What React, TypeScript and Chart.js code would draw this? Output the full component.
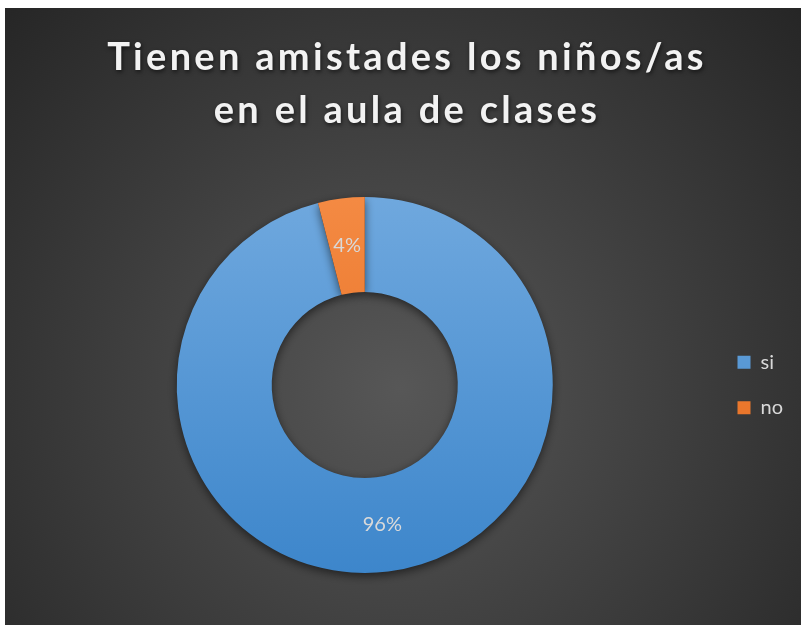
import React, { useEffect, useRef } from "react";
import { Chart, registerables } from "chart.js";

Chart.register(...registerables);

const TITLE_LINES = ["Tienen amistades los niños/as", "en el aula de clases"];
const CATEGORIES = ["si", "no"];
const VALUES = [96, 4];
const LABELS = ["96%", "4%"];

const W = 796;
const H = 617;

const bgPlugin = {
  id: "bg",
  beforeDraw(chart: any) {
    const { ctx } = chart;
    ctx.save();
    const g = ctx.createRadialGradient(395, 380, 0, 395, 380, 560);
    g.addColorStop(0, "#575757");
    g.addColorStop(1, "#252525");
    ctx.fillStyle = g;
    ctx.fillRect(0, 0, chart.width, chart.height);
    ctx.restore();
  },
};

const titlePlugin = {
  id: "customTitle",
  afterDraw(chart: any) {
    const { ctx } = chart;
    ctx.save();
    ctx.font = "bold 38px Lato";
    (ctx as any).letterSpacing = "3.3px";
    ctx.textAlign = "center";
    ctx.textBaseline = "alphabetic";
    ctx.fillStyle = "#f2f2f2";
    ctx.shadowColor = "rgba(0,0,0,0.6)";
    ctx.shadowBlur = 4;
    ctx.shadowOffsetX = 1;
    ctx.shadowOffsetY = 2;
    const baselines = [62, 115];
    TITLE_LINES.forEach((line, i) => {
      ctx.fillText(line, 402, baselines[i]);
    });
    ctx.restore();
  },
};

const shadowPlugin = {
  id: "ringShadow",
  beforeDatasetsDraw(chart: any) {
    const { ctx } = chart;
    ctx.save();
    ctx.shadowColor = "rgba(0,0,0,0.55)";
    ctx.shadowBlur = 10;
    ctx.shadowOffsetY = 3;
  },
  afterDatasetsDraw(chart: any) {
    chart.ctx.restore();
  },
};

const labelPlugin = {
  id: "sliceLabels",
  afterDatasetsDraw(chart: any) {
    const { ctx } = chart;
    const meta = chart.getDatasetMeta(0);
    ctx.save();
    ctx.font = "20px Lato";
    ctx.fillStyle = "#d9d9d9";
    ctx.textAlign = "center";
    ctx.textBaseline = "middle";
    meta.data.forEach((arc: any, i: number) => {
      const p = arc.getCenterPoint();
      ctx.fillText(LABELS[i], p.x, p.y);
    });
    ctx.restore();
  },
};

function makeGradient(chart: any, top: string, bottom: string) {
  const area = chart.chartArea;
  if (!area) return top;
  const g = chart.ctx.createLinearGradient(0, area.top, 0, area.bottom);
  g.addColorStop(0, top);
  g.addColorStop(1, bottom);
  return g;
}

export default function App() {
  const ref = useRef<HTMLCanvasElement>(null);
  useEffect(() => {
    if (!ref.current) return;
    const chart = new Chart(ref.current, {
      type: "doughnut",
      data: {
        labels: CATEGORIES,
        datasets: [
          {
            data: VALUES,
            backgroundColor: (c: any) =>
              c.dataIndex === 0
                ? makeGradient(c.chart, "#6fa8de", "#3d86cb")
                : makeGradient(c.chart, "#f48a43", "#e2681a"),
            borderWidth: 0,
          },
        ],
      },
      options: {
        responsive: false,
        animation: false,
        cutout: "49.5%",
        layout: { padding: { top: 189, bottom: 52, left: 12.5, right: 8 } },
        plugins: {
          title: { display: false },
          tooltip: { enabled: false },
          legend: {
            display: true,
            position: "right",
            labels: {
              color: "#d9d9d9",
              font: { family: "Lato", size: 20 },
              boxWidth: 13,
              boxHeight: 13,
              padding: 25.5,
            },
          },
        },
      },
      plugins: [bgPlugin, shadowPlugin, labelPlugin, titlePlugin],
    });
    return () => chart.destroy();
  }, []);
  return (
    <div style={{ position: "absolute", left: 5, top: 8, width: W, height: H }}>
      <canvas ref={ref} width={W} height={H} style={{ display: "block", width: W, height: H }} />
    </div>
  );
}
